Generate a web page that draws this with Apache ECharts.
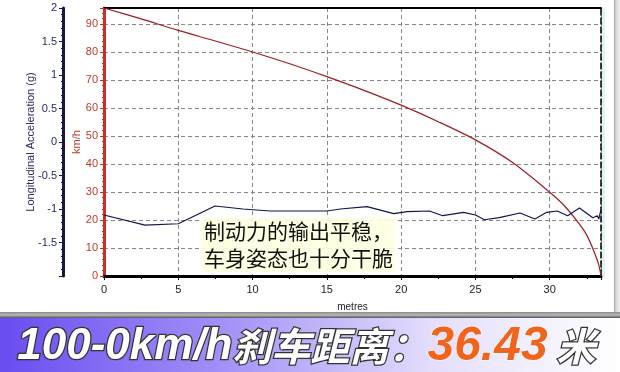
<!DOCTYPE html>
<html>
<head>
<meta charset="utf-8">
<script src="https://cdn.jsdelivr.net/npm/echarts@6/dist/echarts.min.js"></script>
<style>html,body{margin:0;padding:0;background:#fff}#c{width:620px;height:372px}</style>
</head>
<body>
<div id="c"></div>
<script>
// Speed curve (km/h) vs distance (metres)
var speedDist = [0, 2.5, 5, 7.5, 10, 12.5, 15, 17.5, 20, 22.5, 25, 27.5, 30, 31, 32, 32.5, 33, 33.3, 33.45];
var speedKmh  = [95.7, 91.8, 87.7, 83.9, 80.0, 75.8, 71.2, 66.3, 61.0, 55.1, 48.6, 40.5, 29.9, 25.0, 18.5, 14.5, 8.5, 4.0, 0];
// Longitudinal acceleration (g) vs distance (metres)
var accelDist = [0, 2.76, 5.0, 7.47, 9.35, 11.2, 12.7, 15, 15.9, 17.7, 19.5, 20.4, 21.9, 22.8, 24.2, 25, 25.6, 26.6, 28, 29, 29.8, 30.5, 31.2, 32.0, 32.9, 33.2, 33.3, 33.45];
var accelG    = [-1.09, -1.24, -1.22, -0.955, -1.0, -1.03, -1.03, -1.03, -1.0, -0.965, -1.07, -1.04, -1.03, -1.10, -1.05, -1.09, -1.16, -1.13, -1.06, -1.15, -1.05, -1.03, -1.10, -0.985, -1.13, -1.10, -1.15, -1.01];
var xTicks = [0, 5, 10, 15, 20, 25, 30];
var annotation = ['制动力的输出平稳，', '车身姿态也十分干脆'];
var bannerParts = ['100-0km/h', '刹车距离：', '36.43', ' 米'];

var chart = echarts.init(document.getElementById('c'), null, {renderer: 'canvas'});
var font = '"Liberation Sans", Arial, sans-serif';
var speedData = speedDist.map(function (d, i) { return [d, speedKmh[i]]; });
var accelData = accelDist.map(function (d, i) { return [d, accelG[i]]; });
var XMAX = 33.45;

chart.setOption({
  backgroundColor: '#ffffff',
  animation: false,
  grid: {left: 104, right: 19, top: 8, bottom: 96},
  xAxis: [{
    type: 'value', min: 0, max: XMAX, interval: 5, position: 'bottom',
    name: 'metres', nameLocation: 'middle', nameGap: 26, nameMoveOverlap: false,
    nameTextStyle: {color: '#222', fontSize: 10, fontFamily: font},
    axisLine: {onZero: false, lineStyle: {color: '#000', width: 3}},
    axisTick: {show: true, length: 4, lineStyle: {color: '#000'}},
    minorTick: {show: true, splitNumber: 2, length: 3, lineStyle: {color: '#000'}},
    axisLabel: {color: '#222', fontSize: 11, fontFamily: font, margin: 8, showMaxLabel: false,
      formatter: function (v) { return xTicks.indexOf(v) >= 0 ? String(v) : ''; }},
    splitLine: {show: true, lineStyle: {color: '#888', type: [4, 3], width: 1}}
  }, {
    type: 'value', min: 0, max: XMAX, position: 'top',
    axisLine: {show: true, onZero: false, lineStyle: {color: '#000', width: 2}},
    axisTick: {show: false}, axisLabel: {show: false}, splitLine: {show: false}
  }],
  yAxis: [{
    type: 'value', min: 0, max: 95.7, interval: 10, position: 'left',
    name: 'km/h', nameLocation: 'middle', nameGap: 22, nameMoveOverlap: false,
    nameTextStyle: {color: '#c0392b', fontSize: 11, fontFamily: font},
    axisLine: {show: true, onZero: false, lineStyle: {color: '#c9302c', width: 3}},
    axisTick: {show: true, length: 4, lineStyle: {color: '#c9302c'}},
    minorTick: {show: true, splitNumber: 5, length: 2, lineStyle: {color: '#c9302c'}},
    axisLabel: {color: '#c0392b', fontSize: 11, fontFamily: font, margin: 6, showMaxLabel: false},
    splitLine: {show: true, lineStyle: {color: '#888', type: [4, 3], width: 1}}
  }, {
    type: 'value', min: -2, max: 2, interval: 0.5, position: 'left', offset: 41,
    name: 'Longitudinal Acceleration (g)', nameLocation: 'middle', nameGap: 27, nameMoveOverlap: false,
    nameTextStyle: {color: '#2a2a5c', fontSize: 11, fontFamily: font},
    axisLine: {show: true, onZero: false, lineStyle: {color: '#16164a', width: 3}},
    axisTick: {show: true, length: 4, lineStyle: {color: '#16164a'}},
    minorTick: {show: true, splitNumber: 5, length: 2, lineStyle: {color: '#16164a'}},
    axisLabel: {color: '#2a2a5c', fontSize: 11, fontFamily: font, margin: 6, showMinLabel: false},
    splitLine: {show: false}
  }, {
    type: 'value', min: 0, max: 95.7, position: 'right',
    axisLine: {show: true, onZero: false, lineStyle: {color: '#000', width: 1.5, type: [6, 3]}},
    axisTick: {show: false}, axisLabel: {show: false}, splitLine: {show: false}
  }],
  series: [{
    type: 'line', xAxisIndex: 0, yAxisIndex: 0, data: speedData, smooth: 0.3,
    showSymbol: false, lineStyle: {color: '#9e1d24', width: 1.2}, z: 3
  }, {
    type: 'line', xAxisIndex: 0, yAxisIndex: 1, data: accelData,
    showSymbol: false, lineStyle: {color: '#141450', width: 1.2}, z: 4
  }],
  graphic: [
    {type: 'rect', left: 602, top: 8, shape: {width: 3, height: 268},
      style: {fill: '#dff5ef'}},
    {type: 'rect', left: 614, top: 0, shape: {width: 6, height: 318},
      style: {fill: {type: 'linear', x: 0, y: 0, x2: 1, y2: 0, colorStops: [{offset: 0, color: '#999'}, {offset: 0.3, color: '#d6d6d6'}, {offset: 1, color: '#eeeeee'}]}}},
    {type: 'rect', left: 0, top: 312, shape: {width: 620, height: 6},
      style: {fill: {type: 'linear', x: 0, y: 0, x2: 0, y2: 1, colorStops: [{offset: 0, color: '#888'}, {offset: 0.5, color: '#bbb'}, {offset: 1, color: '#555'}]}}},
    {type: 'rect', left: 0, top: 318, shape: {width: 620, height: 54},
      style: {fill: {type: 'linear', x: 0, y: 0, x2: 1, y2: 0, colorStops: [
        {offset: 0, color: '#6a4cf0'}, {offset: 0.35, color: '#a28ef6'}, {offset: 0.7, color: '#e4defc'}, {offset: 1, color: '#ffffff'}]}}},
    {type: 'text', left: 16, top: 322, z: 10,
      style: {
        text: '{a|' + bannerParts[0] + '}{c|' + bannerParts[1] + '}{b|' + bannerParts[2] + '}{c|' + bannerParts[3] + '}',
        rich: {
          a: {fontSize: 44, fontWeight: 'bold', fontStyle: 'italic', fontFamily: '"Liberation Sans", sans-serif',
              fill: '#ffffff', stroke: '#333333', lineWidth: 2.5},
          c: {fontSize: 39, fontWeight: 'bold', fontStyle: 'italic', fontFamily: '"Noto Sans CJK SC", sans-serif',
              fill: '#ffffff', stroke: '#333333', lineWidth: 2.5},
          b: {fontSize: 48, fontWeight: 'bold', fontStyle: 'italic', fontFamily: '"Liberation Sans", sans-serif',
              fill: '#f0641e', stroke: '#ffffff', lineWidth: 1}
        }
      }},
    {type: 'text', left: 202, top: 218, z: 10,
      style: {
        text: annotation.join('\n'),
        fontSize: 21, lineHeight: 27, fontFamily: '"Noto Sans CJK SC", sans-serif',
        fill: '#111', backgroundColor: 'rgba(255,255,225,0.9)', padding: [0, 2]
      }}
  ]
});
</script>
</body>
</html>
